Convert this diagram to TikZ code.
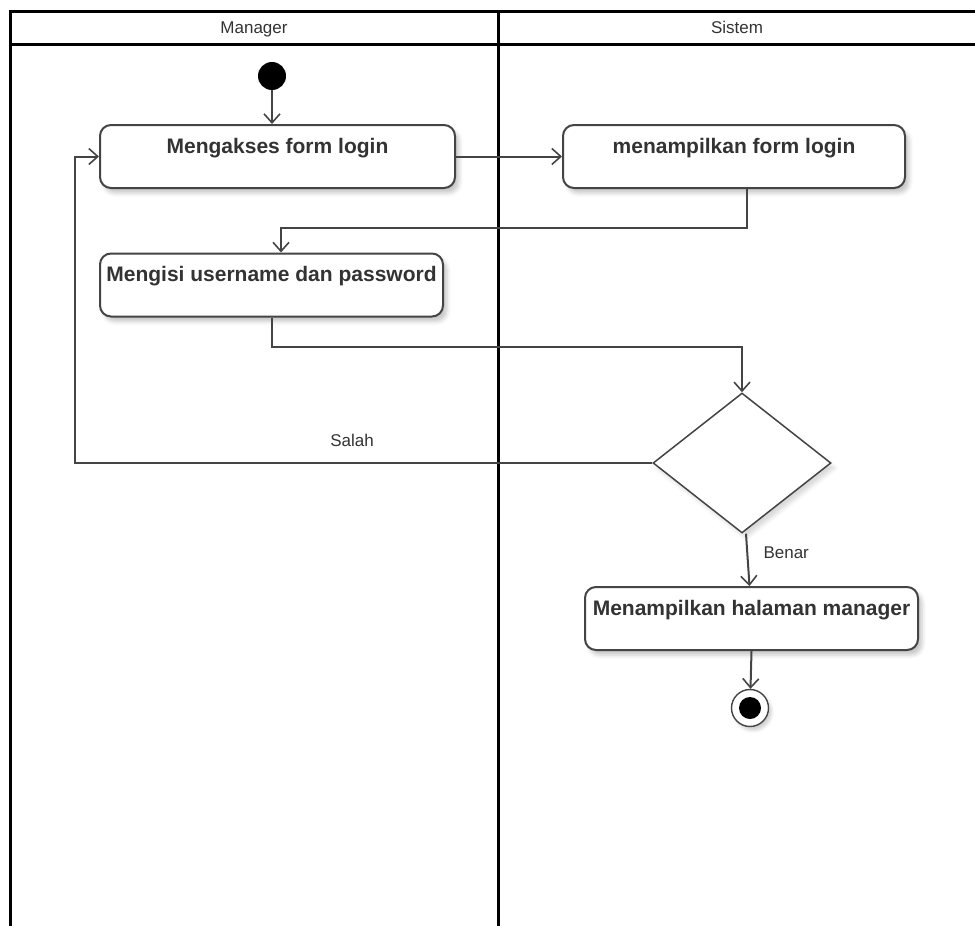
\documentclass[tikz,border=0pt]{standalone}
\usepackage{fontspec}
\setmainfont{Liberation Sans}
\usetikzlibrary{shapes.geometric,arrows.meta,shadows.blur}
\definecolor{ink}{HTML}{333333}
\definecolor{edge}{HTML}{444444}
\begin{document}
\begin{tikzpicture}[x=1pt,y=-1pt,
  lane/.style={line width=3pt,black},
  lanetitle/.style={font=\fontsize{17}{20}\selectfont,text=ink,anchor=base},
  action/.style={draw=edge,line width=2pt,rounded corners=11pt,fill=white,
    minimum width=#1,inner xsep=0pt,inner ysep=0pt,text height=28pt,text depth=35pt,
    font=\fontsize{21}{24}\selectfont\bfseries,text=ink,
    blur shadow={shadow xshift=4pt,shadow yshift=-5pt,shadow opacity=22,shadow blur radius=4pt}},
  decision/.style={draw=edge,line width=1.5pt,diamond,fill=white,inner sep=0pt,
    minimum width=178pt,minimum height=140pt,
    blur shadow={shadow xshift=4pt,shadow yshift=-5pt,shadow opacity=15,shadow blur radius=4pt}},
  flow/.style={draw=edge,line width=2pt,
    -{Straight Barb[length=9pt,width=16pt,line width=1.6pt]}},
  guard/.style={font=\fontsize{17}{20}\selectfont,text=ink},
]
\useasboundingbox (0,0) rectangle (975,926);

% swimlane frame
\draw[lane] (10,926) -- (10,11) -- (975,11);
\draw[lane] (10,44) -- (975,44);
\draw[lane] (498,11) -- (498,926);
\node[lanetitle] (laneM) at (254,34) {Manager};
\node[lanetitle] (laneS) at (737,34) {Sistem};

% initial and final states
\node[circle,fill=black,minimum size=28pt,inner sep=0pt] (start) at (272,76) {};
\node[circle,draw=edge,line width=1.4pt,fill=white,minimum size=37pt,inner sep=0pt,
  blur shadow={shadow xshift=3pt,shadow yshift=-4pt,shadow opacity=18,shadow blur radius=3pt}] (stop) at (750,708) {};
\node[circle,fill=black,minimum size=22pt,inner sep=0pt] (stopdot) at (stop) {};

% actions
\node[action=355pt] (a1) at (277.5,156.5) {Mengakses form login};
\node[action=342pt] (a3) at (734,156.5) {menampilkan form login};
\node[action=343pt] (a2) at (271.5,285) {Mengisi username dan password};
\node[decision] (dec) at (742,463) {};
\node[action=333pt] (a4) at (751.5,618.5) {Menampilkan halaman manager};

% control flow
\draw[flow] (start) -- (start |- a1.north);
\draw[flow] (a1) -- (a3);
\draw[flow] ([xshift=13pt]a3.south) -- ++(0,39) -| ([xshift=9.5pt]a2.north);
\draw[flow] (a2.south) -- ++(0,29) -| (dec.north);
\coordinate (loop) at (75,463);
\draw[flow] (dec.west) -- (loop) |- (a1.west);
\node[guard] (salah) at (352,440) {Salah};
\draw[flow] ([xshift=4pt]dec.south) -- ([xshift=-2pt]a4.north);
\node[guard,anchor=west] (benar) at (760,553) {Benar};
\draw[flow] (a4.south) -- (stop);
\end{tikzpicture}
\end{document}
